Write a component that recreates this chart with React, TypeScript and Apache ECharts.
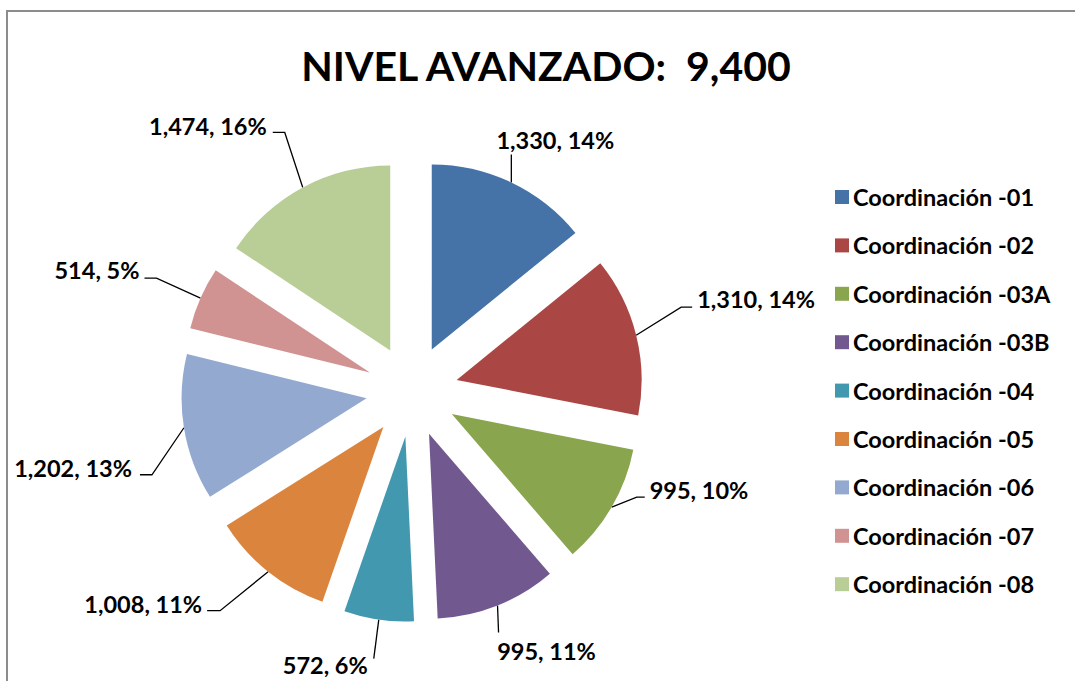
import React, { useEffect, useRef } from "react";
import * as echarts from "echarts";

const categories = [
  "Coordinación -01",
  "Coordinación -02",
  "Coordinación -03A",
  "Coordinación -03B",
  "Coordinación -04",
  "Coordinación -05",
  "Coordinación -06",
  "Coordinación -07",
  "Coordinación -08",
];
const values = [1330, 1310, 995, 995, 572, 1008, 1202, 514, 1474];
const percentLabels = ["14%", "14%", "10%", "11%", "6%", "11%", "13%", "5%", "16%"];
const colors = ["#4572A7", "#AA4643", "#89A54E", "#71588F", "#4198AF", "#DB843D", "#93A9CF", "#D19392", "#B9CD96"];
const titleText = "NIVEL AVANZADO:  9,400";

// leader-line styling (bend from the slice edge, horizontal tail, text offset from the line end)
const leaderBend = [[0, -28], [45, -28], [25, -10], [1, 27], [-5, 39], [-48, 39], [-32, 47], [-44, -20], [-18, -55]];
const leaderTail = [0, 11, 8, 0, 0, -13, -12, -12, -12];
const textOffset: [number, number, string][] = [
  [44, -14, "center"], [5, -8, "left"], [5, -7, "left"], [48, 18, "center"], [-6, 6, "right"],
  [-5, -7, "right"], [-8, -7, "right"], [-5, -8, "right"], [-6, -6, "right"],
];

const FONT = "Lato, 'Open Sans', sans-serif";
const RADIUS = 185;
const EXPLODE = 46;
const CENTER = [412, 391];

export default function App() {
  const ref = useRef<HTMLDivElement>(null);
  useEffect(() => {
    document.body.style.margin = "0";
    const chart = echarts.init(ref.current!, null, { renderer: "svg" });
    chart.setOption({
      animation: false,
      backgroundColor: "#fff",
      title: {
        text: titleText,
        left: 541,
        top: 40,
        textAlign: "center",
        textStyle: { fontFamily: FONT, fontSize: 41, fontWeight: "bold", color: "#000" },
      },
      graphic: [
        {
          type: "rect",
          shape: { x: 7, y: 11, width: 1100, height: 700 },
          style: { fill: "none", stroke: "#8c8c8c", lineWidth: 2 },
          silent: true,
          z: -1,
        },
      ],
      legend: {
        orient: "vertical",
        left: 830,
        top: 180,
        itemWidth: 14,
        itemHeight: 14,
        itemGap: 24.4,
        icon: "rect",
        selectedMode: false,
        textStyle: { fontFamily: FONT, fontSize: 23.5, fontWeight: "bold", color: "#000", lineHeight: 24, padding: [0, 0, 0, -1] },
        data: categories,
      },
      series: [
        {
          type: "pie",
          center: CENTER,
          radius: RADIUS,
          startAngle: 90,
          clockwise: true,
          selectedMode: "multiple",
          selectedOffset: EXPLODE,
          emphasis: { disabled: true },
          data: categories.map((name, i) => ({
            name,
            value: values[i],
            selected: true,
            itemStyle: { color: colors[i] },
          })),
          label: { show: false },
          labelLine: { show: false },
        },
        {
          // transparent twin at the exploded radius: carries the data labels
          type: "pie",
          center: CENTER,
          radius: RADIUS + EXPLODE,
          startAngle: 90,
          clockwise: true,
          silent: true,
          selectedMode: false,
          avoidLabelOverlap: false,
          emphasis: { disabled: true },
          itemStyle: { color: "rgba(0,0,0,0)" },
          data: categories.map((name, i) => ({ name, value: values[i] })),
          label: {
            show: true,
            position: "outside",
            fontFamily: FONT,
            fontSize: 23.5,
            fontWeight: "bold",
            color: "#000",
            formatter: (p: any) => `${values[p.dataIndex].toLocaleString("en-US")}, ${percentLabels[p.dataIndex]}`,
          },
          labelLine: {
            show: true,
            length: 30,
            length2: 10,
            lineStyle: { color: "#000", width: 1.3 },
          },
          labelLayout: (params: any) => {
            const i = params.dataIndex;
            const pts = params.labelLinePoints;
            if (!pts) return {};
            const p0 = pts[0];
            const p1 = [p0[0] + leaderBend[i][0], p0[1] + leaderBend[i][1]];
            const p2 = [p1[0] + leaderTail[i], p1[1]];
            const off = textOffset[i];
            return {
              x: p2[0] + off[0],
              y: p2[1] + off[1],
              align: off[2],
              verticalAlign: "middle",
              labelLinePoints: [p0, p1, p2],
            };
          },
        },
      ],
    });
    return () => chart.dispose();
  }, []);
  return <div ref={ref} style={{ width: 1075, height: 681 }} />;
}
